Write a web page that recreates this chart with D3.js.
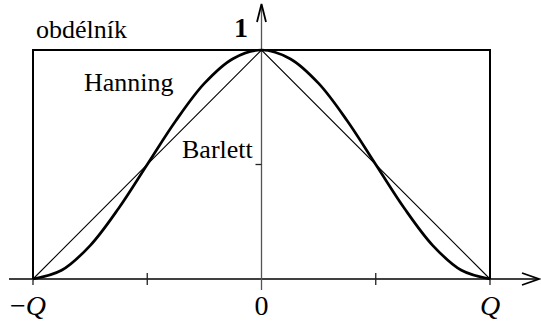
<!DOCTYPE html>
<html>
<head>
<meta charset="utf-8">
<script src="https://cdn.jsdelivr.net/npm/d3@7"></script>
<style>
  html, body { margin: 0; padding: 0; background: #fff; }
  svg { display: block; font-family: "Liberation Serif", "Times New Roman", serif; }
</style>
</head>
<body>
<svg id="chart" width="541" height="325"></svg>
<script>
// Window functions on [-Q, Q], normalised to peak 1
const hanningT = [-1, -0.875, -0.75, -0.625, -0.5, -0.375, -0.25, -0.125, 0,
                  0.125, 0.25, 0.375, 0.5, 0.625, 0.75, 0.875, 1];
const hanningV = [0, 0.038, 0.146, 0.309, 0.5, 0.691, 0.854, 0.962, 1,
                  0.962, 0.854, 0.691, 0.5, 0.309, 0.146, 0.038, 0];
const bartlettT = [-1, 0, 1];
const bartlettV = [0, 1, 0];
const rectT = [-1, -1, 1, 1];
const rectV = [0, 1, 1, 0];

const xTicks = [-1, -0.5, 0.5, 1];
const yTicks = [0.5];
const xLabelPos = [-1, 0, 1];
const xLabelText = ["−Q", "0", "Q"];

const svg = d3.select("#chart");
const x = d3.scaleLinear().domain([-1, 1]).range([33, 490]);
const y = d3.scaleLinear().domain([0, 1]).range([279, 50]);

const line = d3.line().x(d => x(d[0])).y(d => y(d[1]));

// axes
svg.append("line")
  .attr("x1", 9).attr("x2", 538).attr("y1", y(0)).attr("y2", y(0))
  .attr("stroke", "#000").attr("stroke-width", 1.5);
svg.append("path")
  .attr("d", `M${522},${y(0) - 6}L${539},${y(0)}L${522},${y(0) + 6}`)
  .attr("fill", "none").attr("stroke", "#000").attr("stroke-width", 1.8);

svg.append("line")
  .attr("x1", x(0)).attr("x2", x(0)).attr("y1", 290).attr("y2", 5)
  .attr("stroke", "#555").attr("stroke-width", 1.3);
svg.append("path")
  .attr("d", `M${x(0) - 4.5},${22}L${x(0)},${4}L${x(0) + 4.5},${22}`)
  .attr("fill", "none").attr("stroke", "#000").attr("stroke-width", 1.8);

// ticks
svg.selectAll(".xt").data(xTicks).enter().append("line")
  .attr("x1", d => x(d)).attr("x2", d => x(d))
  .attr("y1", y(0) - 6).attr("y2", y(0) + 6)
  .attr("stroke", "#222").attr("stroke-width", 1.3);
svg.selectAll(".yt").data(yTicks).enter().append("line")
  .attr("x1", x(0) - 6).attr("x2", x(0))
  .attr("y1", d => y(d)).attr("y2", d => y(d))
  .attr("stroke", "#222").attr("stroke-width", 1.3);

// curves
svg.append("path")
  .attr("d", line(rectT.map((t, i) => [t, rectV[i]])))
  .attr("fill", "none").attr("stroke", "#000").attr("stroke-width", 2);
svg.append("path")
  .attr("d", line(bartlettT.map((t, i) => [t, bartlettV[i]])))
  .attr("fill", "none").attr("stroke", "#000").attr("stroke-width", 1.1);
svg.append("path")
  .attr("d", line.curve(d3.curveCatmullRom)(hanningT.map((t, i) => [t, hanningV[i]])))
  .attr("fill", "none").attr("stroke", "#000").attr("stroke-width", 2.7);

// labels
const lbl = (tx, xx, yy, size, opts = {}) => svg.append("text")
  .attr("x", xx).attr("y", yy).attr("font-size", size)
  .attr("text-anchor", opts.anchor || "start")
  .attr("font-weight", opts.weight || "normal")
  .text(tx);

lbl("obdélník", 36, 38, 26);
lbl("Hanning", 84, 91, 26);
lbl("Barlett", 182, 158, 26);
lbl("1", 248, 37, 28, { anchor: "end", weight: "bold" });

xLabelPos.forEach((p, i) => {
  const t = svg.append("text")
    .attr("x", x(p) + (p < 0 ? -5 : 0)).attr("y", 315)
    .attr("font-size", 28).attr("text-anchor", "middle");
  const s = xLabelText[i];
  if (s.endsWith("Q")) {
    if (s.length > 1) t.append("tspan").text(s.slice(0, -1));
    t.append("tspan").attr("font-style", "italic").text("Q");
  } else {
    t.text(s);
  }
});
</script>
</body>
</html>
